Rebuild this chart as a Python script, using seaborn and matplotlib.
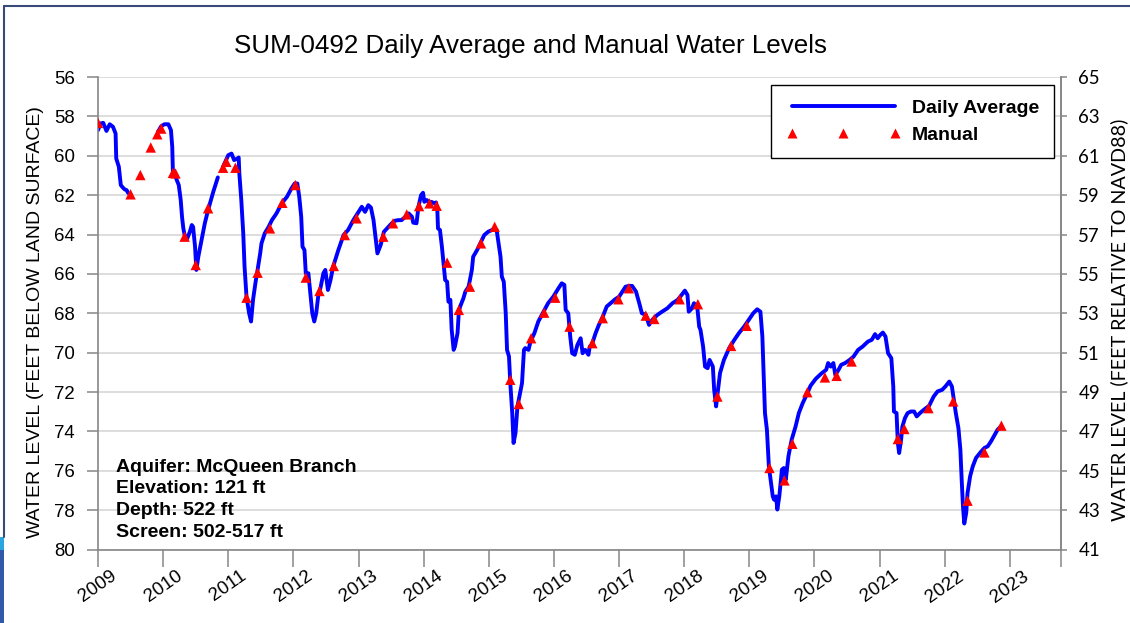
import numpy as np
import pandas as pd
import matplotlib.pyplot as plt
import seaborn as sns
from matplotlib.lines import Line2D
from matplotlib.patches import Rectangle

# ---------------------------------------------------------------------------
# DATOS
# nivel en pies bajo la superficie; NaN = hueco en el registro diario
# ---------------------------------------------------------------------------
daily_year = [
    2009.00, 2009.04, 2009.08, 2009.13, 2009.18, 2009.23, 2009.27, 2009.28, 2009.32, 2009.35,
    2009.38, 2009.41, 2009.44, 2009.46, 2009.50, 2009.70,
    2009.92, 2009.97, 2010.02, 2010.08, 2010.12, 2010.14, 2010.15, 2010.18, 2010.21, 2010.24,
    2010.27, 2010.29, 2010.31, 2010.33, 2010.37, 2010.41, 2010.44, 2010.46, 2010.49, 2010.51,
    2010.54, 2010.58, 2010.64, 2010.69, 2010.77, 2010.84, 2010.88,
    2010.92, 2011.00, 2011.05, 2011.09, 2011.14, 2011.16, 2011.17, 2011.20, 2011.23, 2011.25,
    2011.28, 2011.32, 2011.35, 2011.38, 2011.42, 2011.45, 2011.49, 2011.51, 2011.56, 2011.62,
    2011.67, 2011.74, 2011.82, 2011.90, 2011.97, 2012.02, 2012.06, 2012.09, 2012.12, 2012.14,
    2012.17, 2012.19, 2012.23, 2012.26, 2012.29, 2012.32, 2012.35, 2012.38, 2012.42, 2012.46,
    2012.49, 2012.53, 2012.57, 2012.61, 2012.69, 2012.77, 2012.84, 2012.92, 2013.00, 2013.05,
    2013.10, 2013.15, 2013.19, 2013.23, 2013.26, 2013.29, 2013.34, 2013.39, 2013.51, 2013.56,
    2013.61, 2013.66, 2013.72, 2013.77, 2013.82, 2013.84, 2013.89, 2013.92, 2013.96, 2013.99,
    2014.01, 2014.05, 2014.09, 2014.12, 2014.16, 2014.19, 2014.21, 2014.22, 2014.25, 2014.28,
    2014.30, 2014.33, 2014.36, 2014.38, 2014.41, 2014.43, 2014.46, 2014.48, 2014.52, 2014.54,
    2014.56, 2014.61, 2014.64, 2014.69, 2014.74, 2014.76, 2014.82, 2014.87, 2014.93, 2014.99,
    2015.07, 2015.12, 2015.15, 2015.18, 2015.20, 2015.23, 2015.26, 2015.28, 2015.31, 2015.33,
    2015.36, 2015.38, 2015.41, 2015.44, 2015.48, 2015.51, 2015.54, 2015.56, 2015.61, 2015.64,
    2015.70, 2015.76, 2015.84, 2015.91, 2015.99, 2016.07, 2016.12, 2016.16, 2016.18, 2016.22,
    2016.25, 2016.28, 2016.32, 2016.36, 2016.41, 2016.44, 2016.48, 2016.53, 2016.55, 2016.58,
    2016.64, 2016.69, 2016.75, 2016.81, 2016.87, 2016.94, 2017.00, 2017.05, 2017.10, 2017.15,
    2017.20, 2017.26, 2017.31, 2017.35, 2017.41, 2017.46, 2017.49, 2017.52, 2017.59, 2017.66,
    2017.74, 2017.82, 2017.90, 2017.96, 2018.01, 2018.05, 2018.07, 2018.12, 2018.15, 2018.20,
    2018.23, 2018.25, 2018.29, 2018.32, 2018.36, 2018.39, 2018.44, 2018.46, 2018.49, 2018.51,
    2018.55, 2018.61, 2018.69, 2018.77, 2018.84, 2018.92, 2018.99, 2019.06, 2019.12, 2019.17,
    2019.20, 2019.22, 2019.24, 2019.27, 2019.30, 2019.36, 2019.38, 2019.41, 2019.43, 2019.46,
    2019.50, 2019.53, 2019.56, 2019.60, 2019.65, 2019.71, 2019.76, 2019.82, 2019.88, 2019.94,
    2020.02, 2020.10, 2020.18, 2020.21, 2020.25, 2020.29, 2020.32, 2020.37, 2020.41, 2020.47,
    2020.54, 2020.60, 2020.67, 2020.74, 2020.82, 2020.88, 2020.93, 2020.97, 2021.01, 2021.05,
    2021.09, 2021.13, 2021.18, 2021.21, 2021.22, 2021.26, 2021.28, 2021.30, 2021.33, 2021.35,
    2021.39, 2021.43, 2021.48, 2021.53, 2021.57, 2021.62, 2021.68, 2021.76, 2021.83, 2021.89,
    2021.96, 2022.01, 2022.07, 2022.11, 2022.14, 2022.17, 2022.21, 2022.24, 2022.26, 2022.28,
    2022.30, 2022.33, 2022.35, 2022.39, 2022.43, 2022.48, 2022.56, 2022.61, 2022.66, 2022.71,
    2022.76, 2022.81, 2022.86,
]
daily_level = [
    58.70, 58.36, 58.33, 58.74, 58.40, 58.53, 58.87, 60.14, 60.56, 61.49,
    61.61, 61.71, 61.75, 61.88, 61.96, np.nan,
    58.79, 58.50, 58.40, 58.40, 58.70, 59.55, 60.82, 60.98, 61.24, 61.49,
    62.25, 63.10, 63.69, 64.03, 64.20, 63.86, 63.52, 63.61, 64.62, 65.80,
    65.13, 64.45, 63.43, 62.76, 61.83, 61.10, np.nan,
    60.56, 59.97, 59.89, 60.22, 60.14, 60.09, 60.90, 62.25, 63.94, 65.63,
    67.16, 68.00, 68.42, 67.32, 66.40, 65.80, 64.96, 64.45, 63.94, 63.61,
    63.27, 62.93, 62.42, 62.09, 61.66, 61.41, 61.41, 62.09, 63.10, 64.62,
    64.79, 65.97, 65.97, 66.98, 68.00, 68.42, 68.00, 67.16, 66.65, 65.97,
    65.80, 66.82, 66.31, 65.63, 64.79, 64.03, 63.77, 63.27, 62.85, 62.59,
    62.85, 62.51, 62.63, 63.27, 64.11, 64.96, 64.53, 63.86, 63.43, 63.30,
    63.27, 63.27, 63.10, 62.93, 63.10, 63.40, 63.43, 62.59, 62.00, 61.88,
    62.34, 62.25, 62.42, 62.34, 62.42, 62.37, 62.76, 63.69, 63.77, 64.62,
    65.29, 66.31, 66.40, 67.41, 67.32, 68.84, 69.86, 69.69, 69.01, 67.92,
    67.66, 67.24, 66.90, 66.65, 65.80, 65.13, 64.79, 64.45, 64.03, 63.86,
    63.74, 63.77, 64.45, 65.13, 66.14, 66.40, 68.00, 69.86, 70.20, 71.55,
    73.07, 74.59, 74.08, 72.73, 72.06, 71.55, 69.86, 69.77, 69.86, 69.44,
    69.01, 68.42, 67.92, 67.49, 67.16, 66.73, 66.48, 66.56, 67.83, 68.00,
    69.18, 70.03, 70.11, 69.61, 69.27, 70.03, 69.86, 70.11, 69.69, 69.61,
    69.01, 68.59, 68.17, 67.66, 67.49, 67.29, 67.16, 66.90, 66.65, 66.61,
    66.61, 66.90, 67.49, 68.00, 68.08, 68.59, 68.42, 68.30, 68.08, 67.92,
    67.75, 67.49, 67.32, 67.07, 66.85, 67.07, 67.92, 67.75, 67.49, 67.66,
    68.68, 68.84, 69.69, 70.71, 70.79, 70.37, 70.71, 71.89, 72.73, 72.14,
    71.04, 70.37, 69.77, 69.35, 69.01, 68.68, 68.34, 68.00, 67.80, 67.92,
    69.18, 71.21, 73.07, 73.92, 75.78, 77.30, 77.47, 77.30, 77.97, 77.30,
    75.94, 75.86, 76.45, 75.27, 74.42, 73.75, 73.07, 72.56, 72.14, 71.68,
    71.33, 71.08, 70.87, 70.53, 70.71, 70.53, 71.13, 70.87, 70.62, 70.53,
    70.37, 70.20, 69.86, 69.69, 69.44, 69.35, 69.06, 69.27, 69.10, 68.98,
    69.18, 70.03, 70.28, 71.72, 72.99, 73.07, 74.59, 75.10, 74.42, 73.75,
    73.32, 73.07, 72.99, 72.99, 73.24, 73.07, 72.90, 72.70, 72.23, 71.97,
    71.89, 71.72, 71.47, 71.72, 72.39, 73.07, 73.83, 74.93, 76.45, 77.81,
    78.68, 78.14, 77.13, 76.28, 75.78, 75.35, 75.02, 74.84, 74.76, 74.51,
    74.22, 73.92, 73.75,
]

manual_year = [
    2009.00, 2009.50, 2009.65, 2009.81, 2009.91, 2009.97, 2010.15, 2010.19, 2010.33, 2010.50,
    2010.69, 2010.92, 2010.97, 2011.11, 2011.28, 2011.45, 2011.64, 2011.83, 2012.03, 2012.19,
    2012.40, 2012.62, 2012.79, 2012.97, 2013.38, 2013.53, 2013.74, 2013.93, 2014.09, 2014.20,
    2014.36, 2014.54, 2014.71, 2014.88, 2015.09, 2015.33, 2015.46, 2015.65, 2015.85, 2016.02,
    2016.24, 2016.59, 2016.75, 2016.99, 2017.15, 2017.41, 2017.54, 2017.93, 2018.21, 2018.51,
    2018.72, 2018.96, 2019.31, 2019.54, 2019.66, 2019.89, 2020.16, 2020.34, 2020.57, 2021.28,
    2021.38, 2021.75, 2022.13, 2022.35, 2022.61, 2022.87,
]
manual_level = [
    58.33, 61.96, 60.98, 59.58, 58.91, 58.62, 60.87, 60.90, 64.11, 65.55,
    62.67, 60.61, 60.31, 60.61, 67.21, 65.94, 63.69, 62.39, 61.49, 66.19,
    66.87, 65.60, 64.03, 63.18, 64.11, 63.43, 62.98, 62.56, 62.42, 62.54,
    65.43, 67.83, 66.65, 64.45, 63.61, 71.38, 72.61, 69.27, 67.97, 67.21,
    68.68, 69.52, 68.25, 67.29, 66.73, 68.12, 68.29, 67.29, 67.54, 72.23,
    69.66, 68.64, 75.86, 76.49, 74.63, 72.01, 71.26, 71.18, 70.45, 74.39,
    73.88, 72.82, 72.48, 77.52, 75.07, 73.71,
]

LAND_ELEV = 121  # ft, para pasar de profundidad a cota NAVD88
years = list(range(2009, 2024))
well_info = ['Aquifer: McQueen Branch', 'Elevation: 121 ft',
             'Depth: 522 ft', 'Screen: 502-517 ft']

BLUE = '#0000ff'
RED = '#ff0000'
GRAY = '#868686'

# ---------------------------------------------------------------------------
# ESTILO
# ---------------------------------------------------------------------------
sns.set_theme(style='white')
plt.rcParams['font.family'] = ['Liberation Sans', 'DejaVu Sans']
plt.rcParams['text.color'] = 'black'
plt.rcParams['axes.labelcolor'] = 'black'

daily = pd.DataFrame({'year': daily_year, 'level': daily_level})
daily['tramo'] = daily['level'].isna().cumsum()   # cada hueco abre un tramo nuevo
daily = daily.dropna()
manual = pd.DataFrame({'year': manual_year, 'level': manual_level})

W, H = 1130, 623
fig = plt.figure(figsize=(W / 100, H / 100), dpi=100)
fig.subplots_adjust(left=98 / W, right=1061 / W, bottom=1 - 549.5 / H, top=1 - 77 / H)
ax = fig.add_subplot(111)

sns.lineplot(data=daily, x='year', y='level', units='tramo', estimator=None,
             color=BLUE, linewidth=2.8, ax=ax, legend=False, zorder=2)
sns.scatterplot(data=manual, x='year', y='level', marker='^', s=56, color=RED,
                edgecolor='none', linewidth=0, ax=ax, legend=False, zorder=3)

# eje izquierdo: profundidad
ax.set_xlim(2009, 2023.785)
ax.set_ylim(80, 56)
ax.set_yticks(range(56, 81, 2))
ax.set_xticks(years + [2023.785])
ax.set_xticklabels([str(y) for y in years] + [''], rotation=35)
ax.set_xlabel('')
ax.set_ylabel('')
ax.yaxis.grid(True, color='#d3d3d3', linewidth=1.1)
ax.xaxis.grid(False)
ax.set_axisbelow(True)
ax.tick_params(axis='x', bottom=True, direction='out', length=12, width=1.1,
               color=GRAY, pad=1, labelsize=13.6, labelcolor='black')
ax.tick_params(axis='y', left=True, direction='out', length=8, width=1.1,
               color=GRAY, pad=8.5, labelsize=13.4, labelcolor='black')
ax.spines['top'].set_visible(False)
for lado in ['left', 'bottom', 'right']:
    ax.spines[lado].set_color(GRAY)
    ax.spines[lado].set_linewidth(1.2)

# eje derecho: cota NAVD88
ax2 = ax.twinx()
ax2.set_ylim(LAND_ELEV - 80, LAND_ELEV - 56)
ax2.set_yticks(range(41, 66, 2))
ax2.grid(False)
ax2.tick_params(axis='y', right=True, direction='out', length=4, width=1.1,
                color=GRAY, pad=8.5, labelsize=13.4, labelcolor='black',
                labelfontfamily='Lato')
for lado in ['left', 'bottom', 'top']:
    ax2.spines[lado].set_visible(False)
ax2.spines['right'].set_color(GRAY)
ax2.spines['right'].set_linewidth(1.2)

# textos
fig.text(530 / W, 1 - 53.5 / H, 'SUM-0492 Daily Average and Manual Water Levels',
         ha='center', va='baseline', fontsize=18.7)
fig.text(36 / W, 1 - 322 / H, 'WATER LEVEL (FEET BELOW LAND SURFACE)',
         rotation=90, ha='center', va='center', fontsize=14)
fig.text(1119 / W, 1 - 320 / H, 'WATER LEVEL (FEET RELATIVE TO NAVD88)',
         rotation=90, ha='center', va='center', fontsize=14.2, family=['Lato', 'DejaVu Sans'])
for i, linea in enumerate(well_info):
    fig.text(116 / W, 1 - (471.7 + 21.7 * i) / H, linea, ha='left', va='baseline',
             fontsize=14, fontweight='bold')

handles = [
    Line2D([], [], color=BLUE, linewidth=2.8, label='Daily Average'),
    Line2D([], [], linestyle='none', marker='^', markersize=7.5, color=RED,
           markeredgecolor='none', label='Manual'),
]
leg = ax2.legend(handles=handles, loc='upper right', bbox_to_anchor=(1054 / W, 1 - 85 / H),
                 bbox_transform=fig.transFigure, numpoints=3, handlelength=5.9,
                 handletextpad=0.6, borderpad=0.75, labelspacing=0.45, borderaxespad=0,
                 prop={'weight': 'bold', 'size': 14}, frameon=True, fancybox=False,
                 edgecolor='black', framealpha=1)
leg.get_frame().set_linewidth(1.0)

# marco de la diapositiva
fig.add_artist(Line2D([3.5 / W, 3.5 / W], [1 - 5.5 / H, 1 - 537 / H],
                      transform=fig.transFigure, color='#3a4a78', linewidth=1.5))
fig.add_artist(Line2D([3.5 / W, 1], [1 - 5.5 / H, 1 - 5.5 / H],
                      transform=fig.transFigure, color='#3a4a78', linewidth=1.5))
fig.add_artist(Rectangle((0, 1 - 550 / H), 3.5 / W, 13 / H, transform=fig.transFigure,
                         color='#2aa6df', linewidth=0))
fig.add_artist(Rectangle((0, 0), 4 / W, 1 - 550 / H, transform=fig.transFigure,
                         color='#2e5aa8', linewidth=0))

fig.savefig('out.png', dpi=100)
